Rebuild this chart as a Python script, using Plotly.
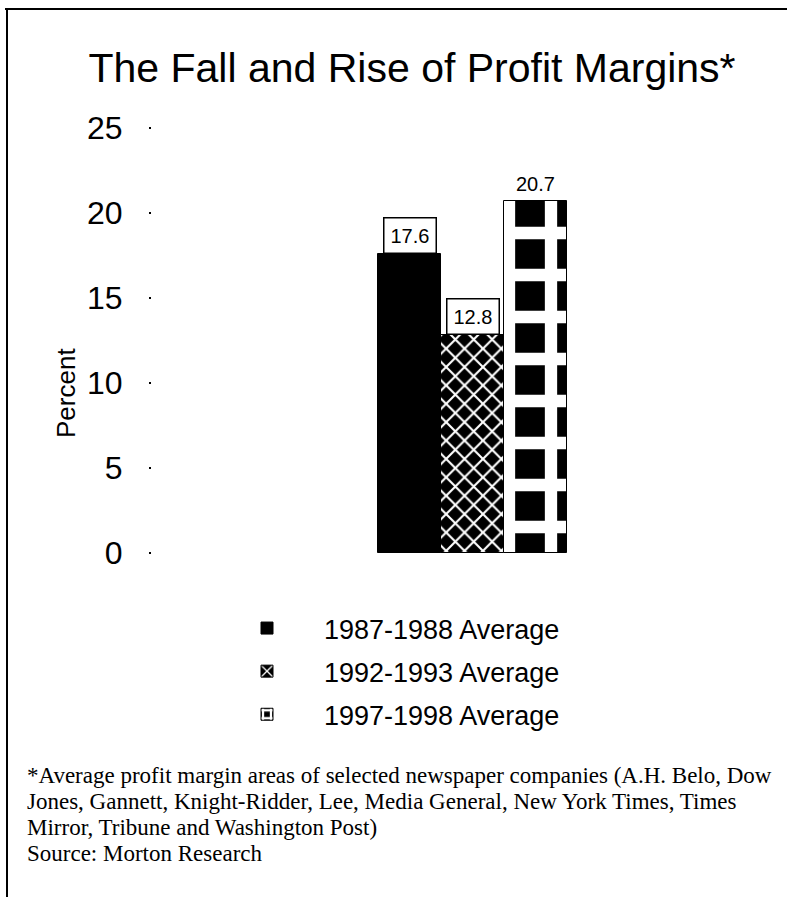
import plotly.graph_objects as go

# ---- data ----
categories = ["1987-1988 Average", "1992-1993 Average", "1997-1998 Average"]
values = [17.6, 12.8, 20.7]
value_labels = ["17.6", "12.8", "20.7"]
y_ticks = [0, 5, 10, 15, 20, 25]

title_text = "The Fall and Rise of Profit Margins*"
y_title = "Percent"
footnote_lines = [
    "*Average profit margin areas of selected newspaper companies (A.H. Belo, Dow",
    "Jones, Gannett, Knight-Ridder, Lee, Media General, New York Times, Times",
    "Mirror, Tribune and Washington Post)",
    "Source: Morton Research",
]

# ---- layout geometry (pixels) ----
W, H = 787, 897
L, R, T, B = 152, 87, 128, 344
PW, PH = W - L - R, H - T - B


def px(x):
    return (x - L) / PW


def py(y):
    return 1 - (y - T) / PH


patterns = [
    dict(shape="", bgcolor="black"),
    dict(shape="x", bgcolor="black", fgcolor="white", fgopacity=1, size=13, solidity=0.3),
    dict(shape="+", bgcolor="black", fgcolor="white", fgopacity=1, size=42, solidity=0.5),
]

fig = go.Figure()
for cat, val, pat in zip(categories, values, patterns):
    fig.add_trace(go.Bar(
        x=[cat], y=[val], name=cat, legendgroup=cat,
        marker=dict(color="black", pattern=pat, line=dict(color="black", width=1)),
        hoverinfo="x+y",
    ))

FONT = "Liberation Sans, Arial, sans-serif"

# value labels above bars
boxed = [True, True, False]
for cat, val, lab, bx in zip(categories, values, value_labels, boxed):
    fig.add_annotation(
        x=cat, y=val, xref="x", yref="y", text=lab, showarrow=False,
        yanchor="bottom", font=dict(family=FONT, size=20, color="black"),
        bgcolor="white" if bx else "rgba(0,0,0,0)",
        bordercolor="black", borderwidth=1.5 if bx else 0, borderpad=6,
    )

# y axis title
fig.add_annotation(
    x=px(66), y=py(393), xref="paper", yref="paper", text=y_title,
    textangle=-90, showarrow=False, xanchor="center", yanchor="middle",
    font=dict(family=FONT, size=26, color="black"),
)

# footnote, one annotation per line
foot_y = [775, 801, 827, 853]
for line, yy in zip(footnote_lines, foot_y):
    fig.add_annotation(
        x=px(25), y=py(yy), xref="paper", yref="paper",
        text=line, showarrow=False, xanchor="left", yanchor="middle", align="left",
        font=dict(family="Liberation Serif, Times New Roman, serif", size=23, color="black"),
    )

# frame lines
fig.add_shape(type="line", xref="paper", yref="paper",
              x0=px(5), x1=px(790), y0=py(9), y1=py(9),
              line=dict(color="black", width=2))
fig.add_shape(type="line", xref="paper", yref="paper",
              x0=px(7), x1=px(7), y0=py(9), y1=py(900),
              line=dict(color="black", width=2))

cat_w = 63.0
r0 = -0.5 - (378 - L) / cat_w
r1 = r0 + PW / cat_w

fig.update_layout(
    width=W, height=H,
    margin=dict(l=L, r=R, t=T, b=B),
    paper_bgcolor="white", plot_bgcolor="white",
    barmode="overlay", bargap=0,
    title=dict(text=title_text, x=412 / W, xref="container", xanchor="center",
               y=1 - 68 / H, yref="container", yanchor="middle",
               font=dict(family=FONT, size=41, color="black")),
    xaxis=dict(type="category", range=[r0, r1], showticklabels=False,
               showgrid=False, zeroline=False, showline=False, ticks=""),
    yaxis=dict(range=[0, 25], tickvals=y_ticks, showgrid=False, zeroline=False,
               showline=False, ticks="outside", ticklen=2, tickwidth=2,
               tickcolor="black", ticklabelstandoff=20,
               tickfont=dict(family=FONT, size=32, color="black")),
    showlegend=True,
    legend=dict(x=px(210), y=py(604), xanchor="left", yanchor="top",
                font=dict(family=FONT, size=27, color="black"),
                itemwidth=104, tracegroupgap=5, bgcolor="rgba(0,0,0,0)"),
)

fig.write_html("out.html",
               config={"displayModeBar": False},
               post_script="document.body.style.margin='0px';document.body.style.padding='0px';")
